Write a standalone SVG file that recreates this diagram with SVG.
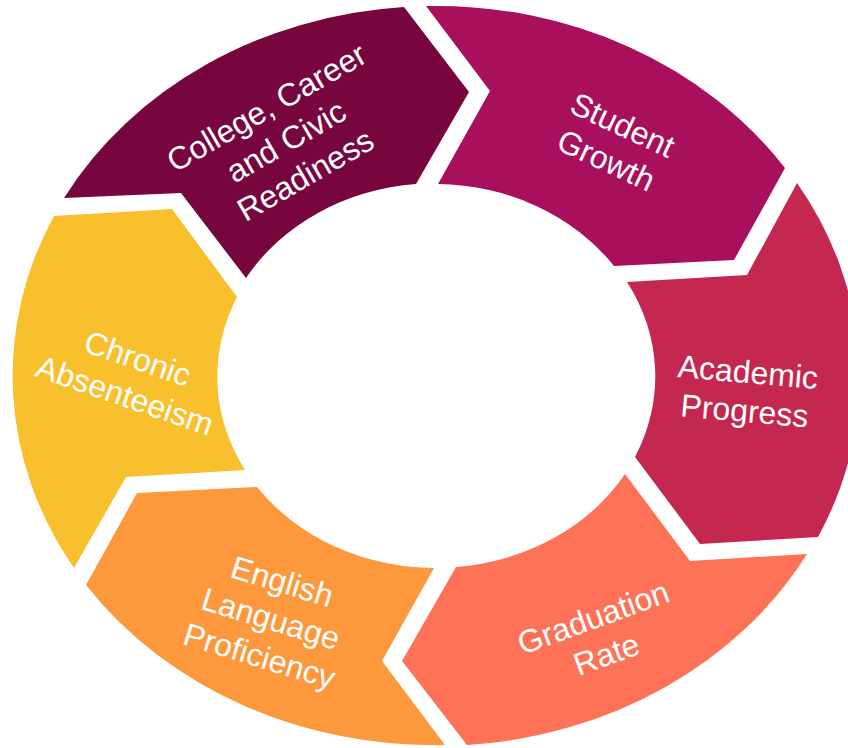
<svg xmlns="http://www.w3.org/2000/svg" width="848" height="748" viewBox="0 0 848 748">
<style>
.lbl{font-family:"Liberation Sans",Arial,sans-serif;font-size:32px;fill:#ffffff;text-anchor:middle}
</style>
<rect width="848" height="748" fill="#ffffff"/>
<g id="college">
<path fill="#77063F" d="M 64 198 A 422 370 0 0 1 404 7 L 469 92 L 416 184 A 219 192 0 0 0 246 278 L 181 193 Z"/>
<text class="lbl" transform="translate(272,117) rotate(-30)"><tspan x="0" y="0">College, Career</tspan><tspan x="0" y="39">and Civic</tspan><tspan x="0" y="78">Readiness</tspan></text>
</g>
<g id="student-growth">
<path fill="#A80F5C" d="M 426 6 A 422 370 0 0 1 785 168 L 734 260 L 614 266 A 219 192 0 0 0 438 184 L 490 91 Z"/>
<text class="lbl" transform="translate(618,135) rotate(25)"><tspan x="0" y="0">Student</tspan><tspan x="0" y="39">Growth</tspan></text>
</g>
<g id="academic-progress">
<path fill="#C5284E" d="M 797 183 A 422 370 0 0 1 818 537 L 700 544 L 635 457 A 219 192 0 0 0 627 282 L 747 275 Z"/>
<text class="lbl" transform="translate(747,383) rotate(5)"><tspan x="0" y="0">Academic</tspan><tspan x="0" y="39">Progress</tspan></text>
</g>
<g id="graduation-rate">
<path fill="#FE7357" d="M 807 554 A 422 370 0 0 1 467 745 L 402 661 L 456 567 A 219 192 0 0 0 625 474 L 690 561 Z"/>
<text class="lbl" transform="translate(597,628) rotate(-20)"><tspan x="0" y="0">Graduation</tspan><tspan x="0" y="39">Rate</tspan></text>
</g>
<g id="english-language-proficiency">
<path fill="#FD983D" d="M 445 745 A 422 370 0 0 1 86 585 L 137 493 L 257 487 A 219 192 0 0 0 434 568 L 382 661 Z"/>
<text class="lbl" transform="translate(279,592) rotate(17)"><tspan x="0" y="0">English</tspan><tspan x="0" y="39">Language</tspan><tspan x="0" y="78">Proficiency</tspan></text>
</g>
<g id="chronic-absenteeism">
<path fill="#F9C02D" d="M 74 568 A 422 370 0 0 1 54 216 L 172 209 L 237 297 A 219 192 0 0 0 245 470 L 126 477 Z"/>
<text class="lbl" transform="translate(134,369) rotate(19)"><tspan x="0" y="0">Chronic</tspan><tspan x="0" y="39">Absenteeism</tspan></text>
</g>
</svg>
